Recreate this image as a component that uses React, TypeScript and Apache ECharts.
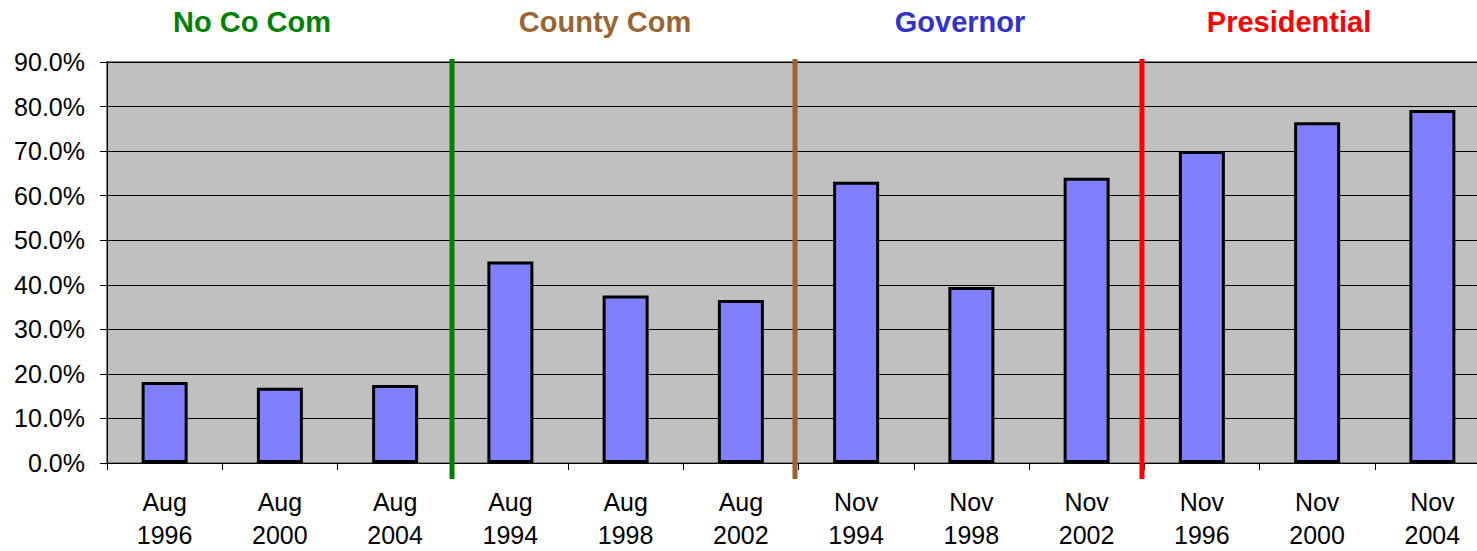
import React, { useEffect, useRef } from "react";
import * as echarts from "echarts";

const categories = ["Aug\n1996", "Aug\n2000", "Aug\n2004", "Aug\n1994", "Aug\n1998", "Aug\n2002", "Nov\n1994", "Nov\n1998", "Nov\n2002", "Nov\n1996", "Nov\n2000", "Nov\n2004"];
const turnout = [18.2, 16.9, 17.5, 45.2, 37.6, 36.6, 63.1, 39.5, 64.0, 70.0, 76.5, 79.2];
const groupTitles = ["No Co Com", "County Com", "Governor", "Presidential"];
const groupColors = ["#008000", "#996633", "#3333CC", "#FF0000"];
const titleX = [252, 605, 960, 1289];
const dividerX = [452, 795, 1142];
const dividerColors = ["#008000", "#996633", "#FF0000"];

export default function App() {
  const ref = useRef<HTMLDivElement>(null);
  useEffect(() => {
    const chart = echarts.init(ref.current!, null, { renderer: "svg" });
    const font = "Arial, 'Liberation Sans', sans-serif";
    const graphics: any[] = [];
    groupTitles.forEach((t, i) => {
      graphics.push({
        type: "text",
        x: titleX[i],
        y: 22,
        style: {
          text: t,
          fill: groupColors[i],
          font: `bold 29px ${font}`,
          textAlign: "center",
          textVerticalAlign: "middle",
        },
        z: 10,
      });
    });
    dividerX.forEach((x, i) => {
      graphics.push({
        type: "line",
        shape: { x1: x, y1: 59, x2: x, y2: 479 },
        style: { stroke: dividerColors[i], lineWidth: 5 },
        z: 100,
      });
    });
    chart.setOption({
      animation: false,
      grid: {
        left: 107,
        right: 0,
        top: 62,
        bottom: 85,
        show: true,
        backgroundColor: "#C0C0C0",
        borderColor: "#808080",
        borderWidth: 2,
      },
      xAxis: {
        type: "category",
        data: categories,
        axisLine: { show: true, lineStyle: { color: "#000", width: 1 } },
        axisTick: { show: true, length: 7, inside: false, lineStyle: { color: "#000" } },
        axisLabel: {
          color: "#000",
          fontFamily: font,
          fontSize: 25,
          lineHeight: 33,
          margin: 22,
          interval: 0,
        },
        splitLine: { show: false },
      },
      yAxis: {
        type: "value",
        min: 0,
        max: 90,
        interval: 10,
        axisLine: { show: true, lineStyle: { color: "#000", width: 1 } },
        axisTick: { show: true, length: 7, lineStyle: { color: "#000" } },
        axisLabel: {
          color: "#000",
          fontFamily: font,
          fontSize: 25,
          margin: 22,
          formatter: (v: number) => v.toFixed(1) + "%",
        },
        splitLine: { show: true, lineStyle: { color: "#000", width: 1 } },
      },
      series: [
        {
          type: "bar",
          data: turnout,
          barWidth: 46,
          itemStyle: { color: "#8080FF", borderColor: "#000", borderWidth: 3 },
        },
      ],
      graphic: graphics,
    });
    return () => chart.dispose();
  }, []);
  return (
    <div
      style={{ position: "fixed", left: 0, top: 0, width: 1477, height: 551, overflow: "hidden", background: "#fff" }}
    >
      <div ref={ref} style={{ width: 1490, height: 551 }} />
    </div>
  );
}
